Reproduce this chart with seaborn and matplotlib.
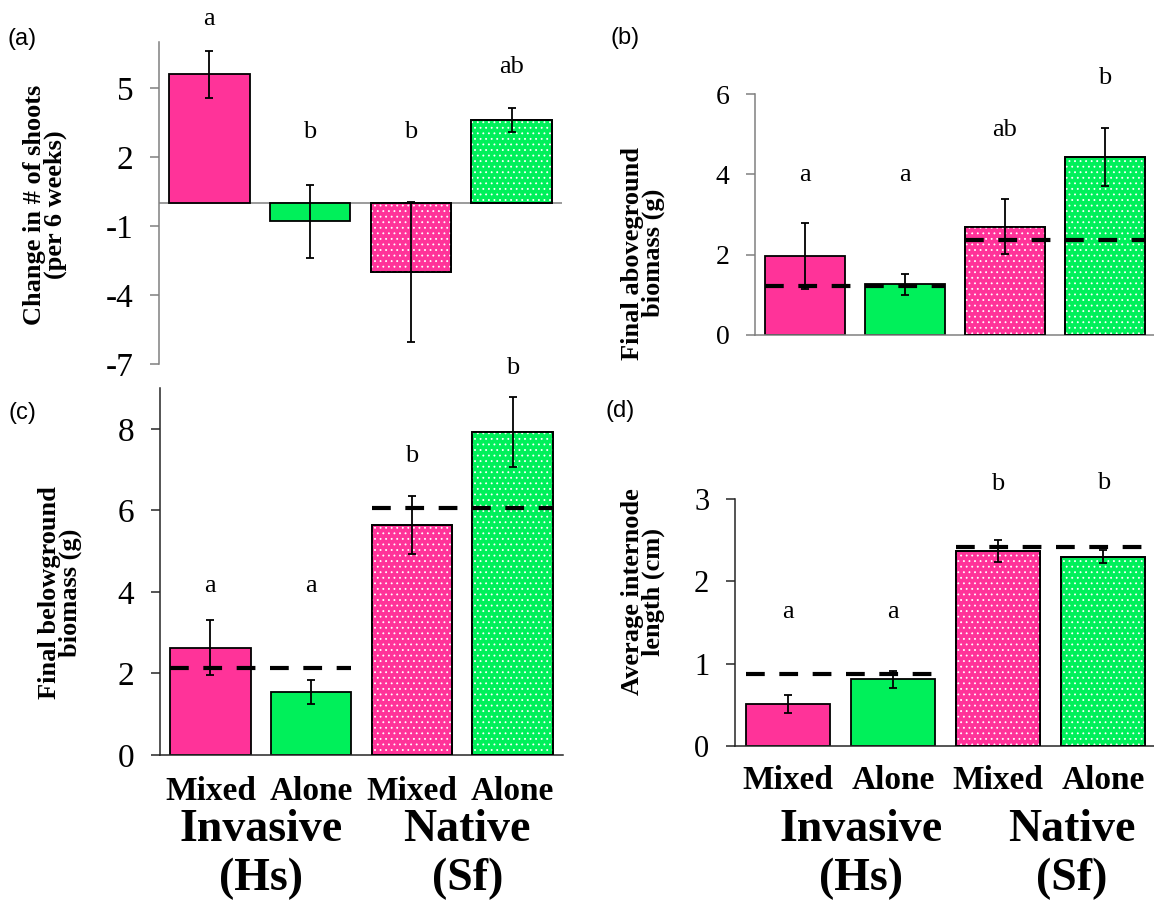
import numpy as np
import pandas as pd
import seaborn as sns
import matplotlib.pyplot as plt
from matplotlib import transforms

# data
groups = ['Hs mixed', 'Hs alone', 'Sf mixed', 'Sf alone']
treatments = ['Mixed', 'Alone', 'Mixed', 'Alone']
species_names = ['Invasive', 'Native']
species_codes = ['(Hs)', '(Sf)']
bar_colors = ['#FF3399', '#00F05A', '#FF3399', '#00F05A']

shoots_mean = [5.6, -0.8, -3.0, 3.6]
shoots_err = [1.03, 1.58, 3.05, 0.52]
shoots_letters = ['a', 'b', 'b', 'ab']

above_mean = [1.96, 1.26, 2.70, 4.43]
above_err = [0.82, 0.26, 0.69, 0.72]
above_expected = [1.23, 2.37]
above_letters = ['a', 'a', 'ab', 'b']

below_mean = [2.63, 1.54, 5.64, 7.93]
below_err = [0.68, 0.29, 0.70, 0.86]
below_expected = [2.13, 6.06]
below_letters = ['a', 'a', 'b', 'b']

internode_mean = [0.51, 0.81, 2.37, 2.30]
internode_err = [0.11, 0.10, 0.13, 0.08]
internode_expected = [0.88, 2.42]
internode_letters = ['a', 'a', 'b', 'b']

sns.set_theme(style='white')
plt.rcParams['font.family'] = ['Liberation Serif', 'DejaVu Serif']
plt.rcParams['hatch.linewidth'] = 0.6
plt.rcParams['text.color'] = 'black'

W, H = 1154, 907
fig = plt.figure(figsize=(W / 100, H / 100), dpi=100)


def add_ax(x0, y0, x1, y1):
    return fig.add_axes([x0 / W, 1 - y1 / H, (x1 - x0) / W, (y1 - y0) / H])


def draw_panel(ax, means, errs, letters, letter_y, ylim, ticks, spine_color,
               tick_size, expected=None):
    df = pd.DataFrame({'group': groups, 'value': means})
    sns.barplot(data=df, x='group', y='value', hue='group', order=groups,
                hue_order=groups, palette=bar_colors, saturation=1,
                edgecolor='black', linewidth=1.3, width=0.8, errorbar=None,
                legend=False, ax=ax, zorder=2)
    # white dot pattern on the native bars, black outline redrawn on top
    for p in list(ax.patches)[2:4]:
        cx = p.get_x() + p.get_width() / 2
        ax.bar(cx, p.get_height(), width=p.get_width(), bottom=p.get_y(),
               fill=False, hatch='...', edgecolor='white', linewidth=0,
               zorder=2.5)
        ax.bar(cx, p.get_height(), width=p.get_width(), bottom=p.get_y(),
               fill=False, edgecolor='black', linewidth=1.3, zorder=2.6)
    ax.errorbar(np.arange(4), means, yerr=errs, fmt='none', ecolor='black',
                elinewidth=1.3, capsize=3, capthick=1.3, zorder=4)
    if expected is not None:
        for k, val in enumerate(expected):
            ax.hlines(val, 2 * k - 0.4, 2 * k + 1.4, colors='black',
                      linestyles=(0, (4.5, 3.5)), linewidth=3, zorder=3)
    for i, (lab, yy) in enumerate(zip(letters, letter_y)):
        ax.text(i, yy, lab, ha='center', va='center', fontsize=19,
                color='black', clip_on=False)
    ax.set_xlim(-0.5, 3.5)
    ax.set_ylim(*ylim)
    ax.set_yticks(ticks)
    ax.set_yticklabels([str(t) for t in ticks])
    ax.set_xlabel('')
    ax.set_ylabel('')
    sns.despine(ax=ax)
    for s in ['left', 'bottom']:
        ax.spines[s].set_color(spine_color)
        ax.spines[s].set_linewidth(1.1)
    ax.tick_params(axis='y', length=6.5, width=1.1, color=spine_color,
                   labelcolor='black', labelsize=tick_size, pad=12,
                   direction='out', left=True)
    ax.patch.set_alpha(0)


gray = '#808080'
dark = '#262626'

# (a)
ax_a = add_ax(159, 42, 562, 364)
draw_panel(ax_a, shoots_mean, shoots_err, shoots_letters, [8.0, 3.1, 3.1, 5.9],
           (-7, 7), [5, 2, -1, -4, -7], gray, 24)
ax_a.spines['bottom'].set_visible(False)
ax_a.axhline(0, color=gray, lw=1.1, zorder=1)
ax_a.set_xticks([])

# (b)
ax_b = add_ax(755, 94, 1155, 335)
draw_panel(ax_b, above_mean, above_err, above_letters, [3.98, 3.98, 5.1, 6.4],
           (0, 6), [0, 2, 4, 6], gray, 20, above_expected)
ax_b.set_xticks([])

# (c)
ax_c = add_ax(160, 388, 563, 755)
draw_panel(ax_c, below_mean, below_err, below_letters, [4.14, 4.14, 7.34, 9.5],
           (0, 9), [0, 2, 4, 6, 8], dark, 24, below_expected)

# (d)
ax_d = add_ax(735, 499, 1156, 746)
draw_panel(ax_d, internode_mean, internode_err, internode_letters,
           [1.63, 1.63, 3.18, 3.2], (0, 3), [0, 1, 2, 3], dark, 22,
           internode_expected)

for ax, pad in [(ax_c, 15), (ax_d, 14)]:
    ax.set_xticks(range(4))
    ax.set_xticklabels(treatments, fontsize=24, fontweight='bold')
    ax.tick_params(axis='x', length=0, pad=pad, labelcolor='black')

# species labels under the treatment names
for ax, xs in [(ax_c, [0.5, 2.55]), (ax_d, [0.7, 2.7])]:
    tr = transforms.blended_transform_factory(ax.transData, fig.transFigure)
    for x, name, code in zip(xs, species_names, species_codes):
        ax.text(x, 1 - 830 / H, name, transform=tr, ha='center', va='center',
                fontsize=33, fontweight='bold', color='black', clip_on=False)
        ax.text(x, 1 - 879 / H, code, transform=tr, ha='center', va='center',
                fontsize=33, fontweight='bold', color='black', clip_on=False)

# axis titles
ylabels = [
    ('Change in # of shoots\n(per 6 weeks)', 45, 205),
    ('Final aboveground\nbiomass (g)', 643, 253),
    ('Final belowground\nbiomass (g)', 60, 593),
    ('Average internode\nlength (cm)', 643, 592),
]
for txt, x, y in ylabels:
    fig.text(x / W, 1 - y / H, txt, rotation=90, ha='center', va='center',
             fontsize=19, fontweight='bold', linespacing=0.9,
             multialignment='center', color='black')

# panel tags
for tag, x, y in [('(a)', 22, 39), ('(b)', 625, 38), ('(c)', 22, 413),
                  ('(d)', 620, 411)]:
    fig.text(x / W, 1 - y / H, tag, ha='center', va='center', fontsize=17,
             color='black', family=['Liberation Sans', 'DejaVu Sans'])

fig.savefig('out.png', dpi=100)
